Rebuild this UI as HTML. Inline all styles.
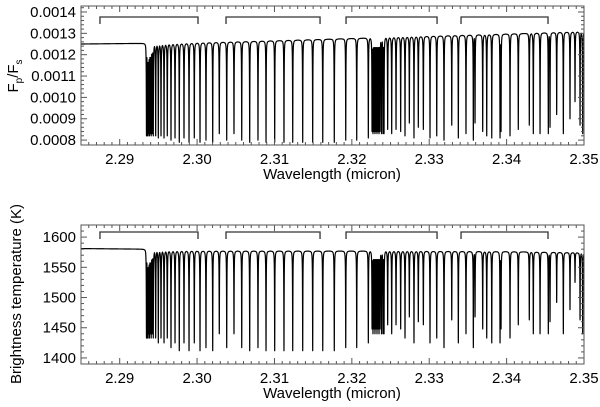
<!DOCTYPE html>
<html><head><meta charset="utf-8"><style>
html,body{margin:0;padding:0;background:#fff;}
svg{display:block;font-family:"Liberation Sans",sans-serif;}
</style></head><body>
<svg id="chart" width="600" height="407" viewBox="0 0 600 407" xmlns="http://www.w3.org/2000/svg"></svg>
<script>
// ---- data ----
const lineCenters = [2.29346,2.29357,2.29366,2.29375,2.29385,2.29396,2.29407,2.29420,2.29434,2.29465,2.29499,2.29534,2.29573,2.29615,2.29663,2.29715,2.29770,2.29831,2.29896,2.29964,2.30038,2.30115,2.30202,2.30287,2.30383,2.30477,2.30577,2.30680,2.30787,2.30891,2.31003,2.31123,2.31236,2.31365,2.31494,2.31624,2.31773,2.31921,2.32063,2.32213,2.32261,2.32273,2.32286,2.32299,2.32312,2.32325,2.32338,2.32351,2.32364,2.32383,2.32403,2.32416,2.32463,2.32515,2.32571,2.32631,2.32687,2.32743,2.32803,2.32859,2.32924,2.33010,2.33097,2.33191,2.33291,2.33376,2.33475,2.33570,2.33592,2.33691,2.33743,2.33808,2.33915,2.33928,2.34044,2.34151,2.34293,2.34345,2.34432,2.34539,2.34561,2.34647,2.34733,2.34819,2.34884,2.34949,2.34983];
const fluxMin = [0.00082,0.00082,0.00082,0.00083,0.00082,0.00083,0.00082,0.00083,0.00082,0.00082,0.00081,0.00082,0.00081,0.00082,0.00080,0.00081,0.00079,0.00081,0.00079,0.00081,0.00079,0.00080,0.00079,0.00083,0.00080,0.00083,0.00080,0.00079,0.00080,0.00079,0.00079,0.00079,0.00079,0.00079,0.00079,0.00079,0.00079,0.00080,0.00080,0.00081,0.00084,0.00083,0.00084,0.00083,0.00084,0.00083,0.00084,0.00083,0.00084,0.00083,0.00083,0.00083,0.00085,0.00083,0.00085,0.00084,0.00082,0.00088,0.00081,0.00086,0.00085,0.00081,0.00082,0.00080,0.00087,0.00081,0.00083,0.00080,0.00088,0.00084,0.00082,0.00081,0.00081,0.00084,0.00082,0.00085,0.00087,0.00083,0.00083,0.00083,0.00086,0.00092,0.00083,0.00090,0.00098,0.00087,0.00083];
const tempMin = [1433,1433,1433,1440,1433,1440,1433,1440,1433,1433,1425,1433,1425,1433,1417,1425,1412,1425,1412,1425,1412,1417,1412,1440,1417,1440,1417,1412,1417,1412,1412,1412,1412,1412,1412,1412,1412,1417,1417,1425,1448,1440,1448,1440,1448,1440,1448,1440,1448,1440,1440,1440,1455,1440,1455,1448,1433,1468,1425,1460,1455,1425,1433,1417,1463,1425,1440,1417,1468,1448,1433,1425,1425,1448,1433,1455,1463,1440,1440,1440,1460,1492,1440,1480,1525,1463,1440];
const contWl = [2.285,2.29335,2.2934,2.300,2.320,2.340,2.350];
const contFlux = [0.001250,0.001253,0.001245,0.001255,0.001276,0.001297,0.001308];
const contTemp = [1581,1580,1577,1577,1577,1576,1574];
const brackets = [[2.28745,2.30012],[2.30374,2.31589],[2.31925,2.33101],[2.33411,2.34535]];
const xTicks = [2.29,2.30,2.31,2.32,2.33,2.34,2.35];
const fluxTicks = [0.0008,0.0009,0.0010,0.0011,0.0012,0.0013,0.0014];
const tempTicks = [1400,1450,1500,1550,1600];

const NS="http://www.w3.org/2000/svg";
const svg=document.getElementById('chart');
function mk(tag,attrs,parent){const e=document.createElementNS(NS,tag);for(const k in attrs)e.setAttribute(k,attrs[k]);(parent||svg).appendChild(e);return e;}
const X0=81,X1=584,W0=2.285,W1=2.35;
const xs=w=>X0+(w-W0)/(W1-W0)*(X1-X0);
function interp(xa,ya,x){if(x<=xa[0])return ya[0];for(let i=1;i<xa.length;i++){if(x<=xa[i]){const t=(x-xa[i-1])/(xa[i]-xa[i-1]);return ya[i-1]+t*(ya[i]-ya[i-1]);}}return ya[ya.length-1];}

function panel(cfg){
  const g=mk('g',{});
  
  
  const ys=v=>cfg.yb-(v-cfg.v0)/(cfg.v1-cfg.v0)*(cfg.yb-cfg.yt);
  const step=0.000005;
  const samp=[];for(let w=W0;w<=W1;w+=step)samp.push(w);
  lineCenters.forEach(c=>samp.push(c));
  samp.sort((a,b)=>a-b);
  const g2=0.000022;
  let d='';
  samp.forEach((w,i)=>{
    const cont=interp(contWl,cfg.cont,w);
    let ab=0;
    for(let j=0;j<lineCenters.length;j++){const dx=(w-lineCenters[j])/g2;if(Math.abs(dx)>60)continue;const a=(cont-cfg.mins[j])/(1+dx*dx);if(a>ab)ab=a;}
    const v=cont-ab;
    d+=(i?'L':'M')+xs(w).toFixed(2)+' '+ys(v).toFixed(2);
  });
  const sp=mk('path',{d:d,fill:'none',stroke:'#000','stroke-width':1.2,'stroke-linejoin':'round'},g);
  
  
  const fr=mk('rect',{x:X0,y:cfg.yt,width:X1-X0,height:cfg.yb-cfg.yt,fill:'none',stroke:'#555','stroke-width':1},g);
  
  
  for(let k=0;k<=65;k++){const w=W0+k*0.001;const x=xs(w);const maj=Math.abs((w*100)-Math.round(w*100))<1e-6;const L=maj?6:3;
    mk('line',{x1:x,x2:x,y1:cfg.yb,y2:cfg.yb-L,stroke:'#555','stroke-width':1},g);
    mk('line',{x1:x,x2:x,y1:cfg.yt,y2:cfg.yt+L,stroke:'#555','stroke-width':1},g);}
  xTicks.forEach(w=>{const t=mk('text',{x:xs(w),y:cfg.yb+19,'font-size':15,'text-anchor':'middle',fill:'#000'},g);t.textContent=w.toFixed(2);
    
    });
  const xt=mk('text',{x:332,y:cfg.yb+34,'font-size':15,'text-anchor':'middle',fill:'#000'},g);xt.textContent='Wavelength (micron)';
  
  
  const nMin=cfg.minorN;
  for(let v=cfg.tickStart;v<=cfg.v1+1e-12;v+=cfg.minor){if(v<cfg.v0)continue;const y=ys(v);const idx=Math.round((v-cfg.tickStart)/cfg.minor);const L=idx%nMin===0?6:3;
    mk('line',{x1:X0,x2:X0+L,y1:y,y2:y,stroke:'#555','stroke-width':1},g);
    mk('line',{x1:X1,x2:X1-L,y1:y,y2:y,stroke:'#555','stroke-width':1},g);}
  cfg.ticks.forEach(v=>{const t=mk('text',{x:76,y:ys(v)+5,'font-size':15,'text-anchor':'end',fill:'#000'},g);t.textContent=cfg.fmt(v);
    
    });
  brackets.forEach(b=>{const x1=xs(b[0]),x2=xs(b[1]);const by=cfg.by;
    const p=mk('path',{d:`M${x1} ${by+7}L${x1} ${by}L${x2} ${by}L${x2} ${by+7}`,fill:'none',stroke:'#333','stroke-width':1.3},g);
    
    });
  return ys;
}
panel({name:'flux-ratio-panel',yt:6,yb:145,v0:0.000777,v1:0.001428,cont:contFlux,mins:fluxMin,ticks:fluxTicks,tickStart:0.0008,minor:0.00002,minorN:5,fmt:v=>v.toFixed(4),by:17});
panel({name:'brightness-temp-panel',yt:225,yb:364,v0:1390,v1:1620,cont:contTemp,mins:tempMin,ticks:tempTicks,tickStart:1400,minor:10,minorN:5,fmt:v=>String(v),by:232});
const t1=mk('text',{transform:'translate(18,76) rotate(-90)','font-size':15,'text-anchor':'middle',fill:'#000'});
t1.innerHTML='F<tspan font-size="10" dy="4">p</tspan><tspan dy="-4">/F</tspan><tspan font-size="10" dy="4">s</tspan>';


const t2=mk('text',{transform:'translate(21,294) rotate(-90)','font-size':15,'text-anchor':'middle',fill:'#000'});
t2.textContent='Brightness temperature (K)';


</script>
</body></html>
